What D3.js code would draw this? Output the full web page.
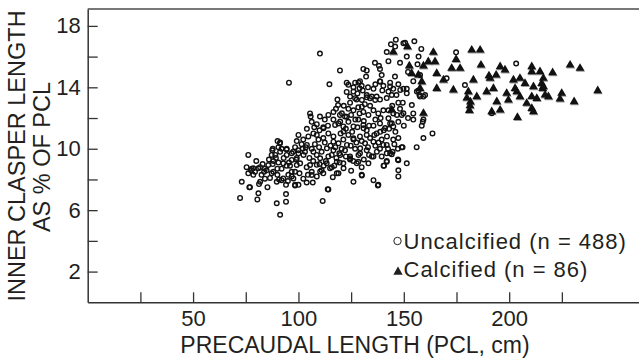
<!DOCTYPE html>
<html>
<head>
<meta charset="utf-8">
<script src="https://cdn.jsdelivr.net/npm/d3@7"></script>
<style>
body { margin: 0; background: #fff; }
text { font-family: "Liberation Sans", Arial, sans-serif; fill: #231f20; }
</style>
</head>
<body>
<div id="chart"></div>
<script>
// PCL (cm), inner clasper length (% of PCL)
const uncalcified = [
[146.2,17.1],[150.6,16.9],[155.0,17.0],[143.9,16.8],[141.9,16.3],[158.3,16.5],[110.2,16.2],
[142.7,15.7],[148.2,15.6],[151.4,16.0],[136.3,15.6],[138.2,15.4],[138.7,15.2],[156.5,15.5],
[119.7,15.1],[130.8,15.2],[132.4,15.1],[132.1,14.7],[139.5,14.8],[145.8,14.7],[152.0,15.0],[157.7,14.8],
[95.5,14.3],[114.7,14.2],[122.9,14.3],[126.9,14.3],[129.2,14.4],[130.0,14.1],[126.1,14.0],[122.9,13.7],[130.5,13.8],[135.6,13.9],[138.7,14.4],[140.3,14.1],[143.5,14.3],[145.0,13.9],[147.4,14.2],[149.8,13.9],[151.4,13.9],[154.5,14.4],[156.9,13.8],[157.4,13.5],[160.1,13.5],
[118.5,13.2],[118.8,12.85],[124.5,13.4],[127.6,13.2],[132.4,13.35],[134.8,13.4],[137.1,13.4],[138.7,13.2],[141.9,13.3],[144.3,13.5],[147.4,13.0],[149.5,13.0],[157.7,13.4],
[105.5,12.3],[105.8,12.1],[123.7,12.6],[126.1,12.5],[128.4,12.7],[130.8,12.4],[133.2,12.2],[135.6,12.5],[137.9,12.3],[140.3,12.5],[142.7,12.5],[145.0,12.3],[148.2,12.6],[149.0,12.2],[154.5,12.3],[159.3,11.9],
[108.7,11.6],[111.8,11.4],[116.6,11.9],[119.0,11.65],[121.3,11.45],[123.7,11.75],[126.1,11.45],[128.4,11.9],[130.8,11.55],[132.4,11.2],[135.6,11.5],[138.7,11.65],[141.1,11.35],[143.5,11.65],[145.0,11.45],[147.4,11.75],[154.5,11.9],[159.0,11.75],[158.5,11.5],
[91.3,10.4],[90.5,10.1],[100.0,10.9],[102.3,10.6],[104.7,10.8],[107.1,11.0],[109.5,10.6],[111.8,10.7],[114.2,11.0],[116.6,10.8],[119.0,10.35],[121.3,10.6],[123.7,10.9],[126.1,10.6],[129.2,10.8],[131.6,10.35],[134.0,10.7],[137.1,11.0],[139.5,10.6],[141.9,10.25],[145.0,10.6],[147.4,10.7],[156.1,10.1],[159.3,10.7],[163.6,11.0],
[76.2,9.6],[87.8,10.0],[87.3,9.6],[91.3,9.8],[94.4,9.95],[98.4,10.1],[100.0,9.7],[103.1,9.8],[106.3,10.0],[108.7,9.6],[111.0,9.8],[114.2,9.5],[116.6,9.9],[119.4,9.7],[122.1,9.9],[124.5,9.5],[126.9,10.0],[129.2,9.7],[132.4,9.9],[135.6,9.5],[138.7,10.0],[141.9,9.7],[144.7,9.8],[149.0,10.1],[143.5,9.7],
[75.4,8.8],[77.8,8.7],[79.4,8.5],[81.8,8.8],[84.9,8.6],[87.8,9.0],[90.0,8.7],[92.8,9.05],[96.0,8.9],[98.4,8.5],[100.8,9.05],[103.9,8.8],[106.3,8.5],[108.7,8.95],[111.0,8.6],[113.4,9.05],[115.8,8.8],[118.2,8.4],[121.3,9.05],[124.5,9.3],[128.4,9.15],[130.0,8.8],[133.2,9.05],[140.6,8.9],[141.9,9.15],[147.4,9.25],[151.4,9.05],[147.4,8.6],[147.4,8.2],
[73.1,7.85],[76.2,8.4],[77.0,7.5],[78.6,8.3],[81.8,7.85],[84.1,8.05],[85.3,7.5],[87.3,8.4],[89.7,7.85],[92.0,7.95],[94.1,7.65],[96.8,8.2],[98.4,7.65],[100.0,7.65],[102.3,8.05],[103.9,7.8],[106.8,7.8],[108.7,8.2],[111.8,8.4],[116.3,8.15],[119.0,8.4],[126.1,7.85],[130.0,8.3],[135.6,7.95],[137.9,7.65],
[72.3,6.8],[81.0,7.1],[80.5,6.7],[89.7,6.45],[94.1,7.05],[94.1,6.55],[91.3,5.7],[111.5,6.6],[114.2,7.35],
[81.3,7.7],[76.7,7.5],[77.5,8.6],[84.1,8.7],[87.6,9.9],[89.3,9.4],[90.5,9.1],[90.1,10.5],[91.2,10.35],[94.4,10.0],[96.8,9.7],[99.2,10.5],[98.4,7.6],
[85.7,8.94],[88.1,8.5],[90.0,8.3],[92.0,8.7],[94.4,8.9],[96.8,8.5],[99.2,8.94],[92.8,8.07],[95.2,8.3],[97.6,8.07],[99.2,9.4],[88.1,9.2],[94.4,9.6],[96.8,9.27],[100.0,9.9],[78.6,8.73],[81.0,8.73],[83.7,8.5],
[149.4,10.1],[147.2,10.0],[147.2,9.3],[144.3,9.64],[141.9,9.2],[140.4,8.9],[137.7,7.6],[130.1,8.25],[125.0,8.57],[113.9,7.36],
[104.0,10.25],[107.1,9.81],[110.3,9.38],[113.5,10.03],[116.6,10.46],[119.8,9.6],[123.0,10.25],[126.1,10.68],[129.3,10.03],[132.4,10.9],[135.6,10.46],[138.8,11.1],[118.2,9.16],[115.0,8.73],[121.4,8.73],[110.3,8.51],[105.5,8.94],[102.4,9.6],[124.5,9.38],[140.3,10.25],[134.8,9.49],[127.7,9.05],[108.7,10.9],[111.9,11.33],[121.4,11.12],[130.9,11.33],[137.2,9.81],[115.8,9.6],[106.3,8.29],
[145.9,16.65],[149.8,16.87],[157.0,16.0],[138.8,14.37],[143.5,14.05],[142.7,13.72],[148.3,13.83],[151.4,13.61],[156.2,13.72],[159.3,13.4],[128.5,14.31],[129.0,13.94],[126.1,13.72],[123.7,14.16],[126.9,13.29],[130.1,13.18],[132.4,13.5],[134.0,13.29],[136.4,13.18],[130.1,12.74],[120.6,12.31],[122.9,12.09],[117.4,11.55],[119.8,11.77],[153.8,12.85],[149.8,12.31],[146.7,12.2],[142.7,11.98],[144.3,11.66],
[106.3,11.75],[110.2,12.1],[114.2,12.2],[116.6,12.4],[119.7,12.2],[122.1,12.1],
[203.3,15.55],[174.8,16.28],[179.0,14.15],[191.7,12.31],[170.3,14.59],
[101.5,10.3],[103.5,10.1],[105.2,9.4],[107.8,10.3],[109.8,10.1],[112.5,10.4],[113.0,9.2],[115.2,10.2],[117.5,10.1],[118.0,9.4],
[120.5,10.0],[120.0,11.0],[122.5,11.3],[124.8,10.2],[125.5,11.1],[127.5,10.4],[128.0,11.4],[130.0,10.5],[131.0,11.8],[133.0,10.1],
[133.5,11.5],[136.0,10.9],[136.5,11.9],[138.0,10.4],[139.0,12.0],[140.5,11.2],[142.0,10.8],[143.0,11.3],[144.5,12.8],[146.0,11.1],
[134.0,12.8],[131.5,12.9],[129.0,12.3],[127.0,11.9],[125.0,12.2],[121.5,12.8],[117.8,12.6],[114.0,11.5],[112.5,11.9],[110.0,11.2],
[107.5,11.4],[104.0,11.3],[102.0,10.0],[99.0,9.3],[97.5,9.8],[95.5,9.1],[93.0,9.4],[92.0,10.0],[89.0,9.6],[86.0,9.3],
[83.0,9.0],[80.0,9.2],[82.5,8.3],[86.5,8.1],[90.8,8.0],[95.0,7.9],[100.5,8.4],[104.5,8.3],[107.0,9.2],[110.0,9.0],
[112.0,8.9],[117.0,8.9],[119.5,9.1],[122.5,9.5],[126.0,9.2],[128.5,9.6],[131.0,9.3],[133.5,9.6],[136.5,10.2],[139.5,9.5],
[142.5,10.0],[145.5,10.3],[150.0,11.5],[152.0,12.0],[146.5,13.5],[139.8,13.8],[136.5,14.2],[133.0,14.0],[128.0,13.6],[124.5,13.0]
];

const calcified = [
[145.0,16.3],[151.7,16.65],[164.0,16.28],[152.6,15.39],[153.7,14.91],[158.5,14.37],[157.7,13.93],[161.6,15.67],[164.8,15.67],[159.3,15.39],[156.9,14.81],
[165.6,14.91],[168.8,14.48],[165.6,13.93],[173.5,13.83],[174.8,15.82],[172.7,15.24],[176.7,15.24],[182.2,16.43],[186.2,16.43],[186.6,15.45],[183.0,14.48],
[180.6,13.72],[184.6,13.39],[179.9,13.3],[181.6,13.05],[181.4,12.8],[181.1,12.5],[189.3,13.72],[190.9,14.59],[190.4,14.75],[192.5,13.93],[193.8,14.8],[195.7,15.35],
[198.0,15.13],[194.1,13.07],[195.7,12.52],[191.7,12.41],[198.8,13.61],[199.6,13.17],[202.0,14.48],[202.8,13.93],[203.6,13.72],[205.1,14.59],[205.1,13.39],[207.5,14.26],
[203.9,12.04],[208.3,12.96],[210.7,15.35],[210.7,15.02],[211.5,14.04],[210.7,13.4],[210.7,12.63],[211.5,12.41],[213.1,13.28],[214.6,15.02],[216.2,14.59],[215.9,13.93],
[216.2,14.05],[217.0,13.5],[218.6,13.39],[220.6,14.96],[215.4,14.26],[224.9,13.61],[224.1,13.24],[228.9,15.45],[233.6,15.24],[230.8,13.07],[242.0,13.78],
[144.3,12.53],[159.3,12.31]
];

const xTicks = [25, 50, 75, 100, 125, 150, 175, 200, 225];
const xLabels = [50, 100, 150, 200];
const yTicks = [2, 4, 6, 8, 10, 12, 14, 16, 18];
const yLabels = [2, 6, 10, 14, 18];
const legendItems = ["Uncalcified (n = 488)", "Calcified (n = 86)"];

const margin = {top: 9, right: 0, bottom: 55.7, left: 87.7},
width = 639 - margin.left - margin.right,
height = 358 - margin.top - margin.bottom;

const root = d3.select("#chart")
.append("svg")
.attr("width", 639)
.attr("height", 358);

const svg = root.append("g")
.attr("transform", `translate(${margin.left}, ${margin.top})`);

const x = d3.scaleLinear()
.domain([0, 261.6])
.range([0, width]);
const y = d3.scaleLinear()
.domain([0, 19.1])
.range([height, 0]);

// top frame line
svg.append("line")
.attr("x1", 0).attr("x2", width)
.attr("y1", 0).attr("y2", 0)
.attr("stroke", "#777")
.attr("stroke-width", 2);

// X axis, ticks pointing inward
const xAxis = svg.append("g")
.attr("transform", `translate(0, ${height})`)
.call(d3.axisBottom(x).tickValues(xTicks).tickSize(-10).tickSizeOuter(0).tickPadding(8)
  .tickFormat(d => xLabels.includes(d) ? d : ""));

// Y axis
const yAxis = svg.append("g")
.call(d3.axisLeft(y).tickValues(yTicks).tickSize(-10).tickSizeOuter(0).tickPadding(7)
  .tickFormat(d => yLabels.includes(d) ? d : ""));

[xAxis, yAxis].forEach(a => {
  a.select(".domain").attr("stroke", "#333").attr("stroke-width", 1.5);
  a.selectAll(".tick line").attr("stroke", "#333").attr("stroke-width", 1.3);
  a.selectAll(".tick text").attr("font-size", 22).attr("fill", "#231f20")
    .attr("font-family", "Liberation Sans, Arial, sans-serif");
});

const tri = d3.symbol().type(d3.symbolTriangle).size(34);

// calcified: filled triangles with a faint grey shadow
svg.append("g")
.selectAll("path.shadow")
.data(calcified)
.join("path")
  .attr("class", "shadow")
  .attr("d", tri)
  .attr("transform", d => `translate(${x(d[0]) + 0.6}, ${y(d[1]) + 1})`)
  .attr("fill", "#999");

svg.append("g")
.selectAll("path.tri")
.data(calcified)
.join("path")
  .attr("class", "tri")
  .attr("d", tri)
  .attr("transform", d => `translate(${x(d[0])}, ${y(d[1])})`)
  .attr("fill", "#111");

// uncalcified: open circles
svg.append("g")
.selectAll("circle")
.data(uncalcified)
.join("circle")
  .attr("cx", d => x(d[0]))
  .attr("cy", d => y(d[1]))
  .attr("r", 2.3)
  .attr("fill", "none")
  .attr("stroke", "#111")
  .attr("stroke-width", 1.4);

// axis titles
root.append("text")
.attr("x", 355).attr("y", 353)
.attr("text-anchor", "middle")
.attr("font-size", 23)
.text("PRECAUDAL LENGTH (PCL, cm)");

root.append("text")
.attr("transform", "translate(25, 156) rotate(-90)")
.attr("text-anchor", "middle")
.attr("font-size", 23.5)
.text("INNER CLASPER LENGTH");

root.append("text")
.attr("transform", "translate(50, 157) rotate(-90)")
.attr("text-anchor", "middle")
.attr("font-size", 23.5)
.text("AS % OF PCL");

// legend
const legend = root.append("g");
legend.append("circle")
.attr("cx", 397.5).attr("cy", 241)
.attr("r", 3.7)
.attr("fill", "none")
.attr("stroke", "#231f20")
.attr("stroke-width", 1);
legend.append("path")
.attr("d", d3.symbol().type(d3.symbolTriangle).size(38))
.attr("transform", "translate(398, 272)")
.attr("fill", "#231f20");
legend.selectAll("text")
.data(legendItems)
.join("text")
  .attr("x", 403.5)
  .attr("y", (d, i) => i === 0 ? 248.7 : 276.5)
  .attr("font-size", 22)
  .attr("letter-spacing", 1)
  .text(d => d);
</script>
</body>
</html>
